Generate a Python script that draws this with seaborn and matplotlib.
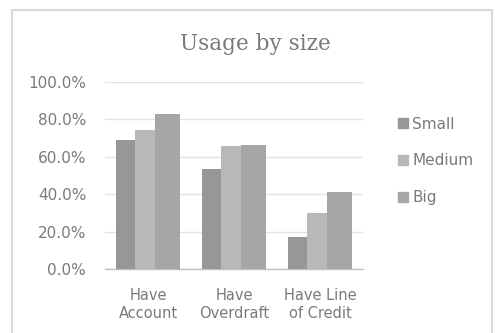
import matplotlib
matplotlib.use("Agg")
import matplotlib.pyplot as plt
import matplotlib.patches as mpatches
import seaborn as sns
import pandas as pd

categories = ["Have\nAccount", "Have\nOverdraft", "Have Line\nof Credit"]
sizes = ["Small", "Medium", "Big"]
small = [69.0, 53.3, 17.3]
medium = [74.3, 65.8, 29.8]
big = [82.9, 66.3, 41.2]
yticks = [0, 20, 40, 60, 80, 100]

colors = {"Small": "#979797", "Medium": "#b8b8b8", "Big": "#a6a6a6"}
text_gray = "#7a7a7a"

rows = []
for name, vals in zip(sizes, [small, medium, big]):
    for cat, v in zip(categories, vals):
        rows.append({"category": cat, "size": name, "value": v})
df = pd.DataFrame(rows)

sns.set_theme(style="white")
plt.rcParams["font.family"] = ["DejaVu Sans"]

fig = plt.figure(figsize=(4.95, 3.33), dpi=100)
ax = fig.add_axes([105 / 495, 1 - 269 / 333, 258 / 495, (269 - 82) / 333])

sns.barplot(data=df, x="category", y="value", hue="size", hue_order=sizes,
            order=categories, palette=colors, width=0.68, saturation=1,
            ax=ax, legend=False, zorder=3)

# widen each bar around its centre so neighbours overlap slightly
new_w = 0.30
for p in ax.patches:
    cx = p.get_x() + p.get_width() / 2
    p.set_width(new_w)
    p.set_x(cx - new_w / 2)
    p.set_edgecolor("none")

ax.set_ylim(0, 100)
ax.set_xlim(-0.5, 2.5)
ax.set_yticks(yticks)
ax.set_yticklabels([f"{t:.1f}%" for t in yticks], color=text_gray, fontsize=11)
ax.tick_params(axis="y", length=0, pad=13.5)
ax.tick_params(axis="x", length=0, pad=14, labelcolor=text_gray, labelsize=10.5)
for lab in ax.get_xticklabels():
    lab.set_linespacing(1.25)
ax.set_xlabel("")
ax.set_ylabel("")
ax.yaxis.grid(True, color="#e3e3e3", linewidth=1.0, zorder=0)
for s in ["top", "right", "left"]:
    ax.spines[s].set_visible(False)
ax.spines["bottom"].set_color("#bfbfbf")
ax.spines["bottom"].set_linewidth(1.0)

handles = [mpatches.Patch(color=colors[s], label=s) for s in sizes]
leg = fig.legend(handles=handles, loc="upper left", bbox_to_anchor=(384 / 495, 1 - 103 / 333),
                 frameon=False, fontsize=11, handlelength=0.65, handleheight=0.65,
                 handletextpad=0.3, labelspacing=1.42)
for t in leg.get_texts():
    t.set_color(text_gray)

fig.text(255 / 495, 1 - 44 / 333, "Usage by size", ha="center", va="center",
         family="DejaVu Serif", fontsize=15.5, color=text_gray)

# chart frame
frame = mpatches.Rectangle((12 / 495, -0.05), (492 - 12) / 495, 1.05 - 10 / 333,
                           transform=fig.transFigure, fill=False,
                           edgecolor="#d9d9d9", linewidth=1.5)
fig.add_artist(frame)

fig.savefig("out.png", dpi=100)
